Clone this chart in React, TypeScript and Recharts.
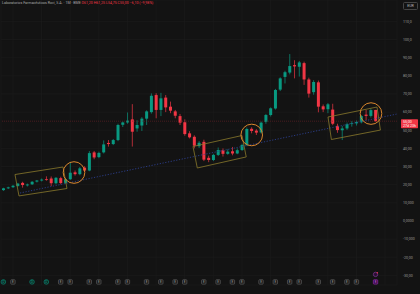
import {
  ComposedChart,
  Bar,
  XAxis,
  YAxis,
  CartesianGrid,
  ReferenceLine,
  ReferenceDot,
} from "recharts";

const BG = "#131313";
const GREEN = "#089981";
const RED = "#f23645";
const BOX = "#8a7a2c";
const RING = "#d9862c";
const TREND = "#2c3f8f";

// monthly candles, May 2019 .. Nov 2025
const MONTHS = [
  "2019-05", "2019-06", "2019-07", "2019-08", "2019-09", "2019-10", "2019-11", "2019-12",
  "2020-01", "2020-02", "2020-03", "2020-04", "2020-05", "2020-06", "2020-07", "2020-08", "2020-09", "2020-10", "2020-11", "2020-12",
  "2021-01", "2021-02", "2021-03", "2021-04", "2021-05", "2021-06", "2021-07", "2021-08", "2021-09", "2021-10", "2021-11", "2021-12",
  "2022-01", "2022-02", "2022-03", "2022-04", "2022-05", "2022-06", "2022-07", "2022-08", "2022-09", "2022-10", "2022-11", "2022-12",
  "2023-01", "2023-02", "2023-03", "2023-04", "2023-05", "2023-06", "2023-07", "2023-08", "2023-09", "2023-10", "2023-11", "2023-12",
  "2024-01", "2024-02", "2024-03", "2024-04", "2024-05", "2024-06", "2024-07", "2024-08", "2024-09", "2024-10", "2024-11", "2024-12",
  "2025-01", "2025-02", "2025-03", "2025-04", "2025-05", "2025-06", "2025-07", "2025-08", "2025-09", "2025-10", "2025-11",
];
// empty slots right of the last candle
const FUTURE = ["2025-12", "2026-01", "2026-02", "2026-03"];

const OPEN = [
  17.0, 18.0, 18.6, 19.3, 21.0, 19.6, 20.2, 21.7,
  22.3, 23.0, 23.4, 20.8, 23.6, 21.0, 23.0, 26.8, 25.8, 29.4, 27.8, 37.8,
  35.2, 37.8, 43.0, 42.4, 44.6, 53.0, 54.3, 56.0, 51.0, 52.6, 56.4, 60.0,
  69.4, 61.2, 68.0, 63.0, 60.4, 57.8, 54.4, 48.3, 46.4, 41.2, 43.6, 34.8,
  33.6, 36.4, 39.0, 37.0, 38.4, 37.2, 39.1, 41.9, 50.8, 49.8, 48.8, 54.6,
  58.4, 62.0, 72.4, 79.4, 81.8, 85.9, 85.0, 87.0, 78.0, 71.0, 76.4, 63.2,
  61.6, 61.4, 52.4, 50.0, 51.0, 53.4, 53.8, 54.4, 58.6, 57.9, 61.2,
];
const HIGH = [
  18.3, 18.9, 19.9, 21.0, 21.6, 20.6, 22.0, 22.6,
  23.4, 24.6, 24.5, 24.2, 24.4, 23.6, 32.5, 27.8, 29.8, 30.2, 38.5, 38.6,
  38.2, 44.4, 44.6, 45.2, 53.6, 54.8, 59.8, 64.4, 55.5, 57.2, 61.0, 70.3,
  70.4, 70.6, 69.4, 65.8, 61.2, 59.0, 56.0, 49.5, 47.2, 44.0, 44.8, 36.0,
  37.0, 40.5, 40.0, 39.5, 40.8, 40.0, 42.6, 51.5, 51.6, 50.6, 54.8, 59.0,
  62.6, 72.8, 79.2, 82.8, 92.0, 88.6, 88.2, 87.8, 79.0, 77.6, 77.4, 64.2,
  65.0, 64.6, 53.6, 52.4, 54.2, 55.0, 55.4, 58.4, 61.2, 62.0, 61.25,
];
const LOW = [
  16.6, 17.6, 18.2, 18.8, 18.4, 19.0, 19.8, 21.2,
  21.8, 22.2, 19.2, 20.2, 20.2, 20.5, 22.6, 25.0, 25.2, 27.0, 27.4, 34.0,
  34.6, 37.2, 41.0, 41.8, 44.0, 51.8, 53.6, 41.0, 49.2, 49.6, 52.9, 59.2,
  56.6, 57.8, 60.0, 59.4, 56.6, 52.9, 47.0, 45.5, 40.0, 40.2, 33.0, 32.4,
  33.0, 35.8, 35.5, 36.5, 36.2, 36.8, 38.6, 41.2, 48.3, 47.4, 48.2, 53.6,
  57.6, 61.4, 71.6, 75.8, 80.8, 78.6, 79.6, 75.0, 68.0, 69.6, 59.9, 60.0,
  59.4, 52.8, 48.6, 44.6, 50.2, 52.0, 52.6, 53.8, 55.6, 57.0, 54.75,
];
const CLOSE = [
  18.0, 18.5, 19.4, 20.6, 19.8, 20.1, 21.6, 22.3,
  22.8, 22.7, 20.8, 23.8, 20.9, 23.0, 26.6, 25.8, 29.0, 27.8, 37.4, 35.0,
  37.5, 42.2, 42.4, 44.6, 52.9, 54.3, 55.3, 49.2, 52.9, 56.4, 60.4, 69.0,
  61.2, 67.6, 62.6, 60.8, 58.0, 54.2, 47.9, 46.1, 41.5, 43.1, 33.8, 33.6,
  36.4, 39.1, 37.0, 38.2, 37.2, 39.0, 41.9, 50.7, 49.6, 48.7, 54.2, 58.4,
  62.1, 72.2, 78.6, 82.0, 85.4, 85.2, 87.4, 78.0, 70.2, 76.6, 63.0, 61.5,
  64.3, 53.6, 50.1, 51.0, 53.4, 53.9, 54.6, 57.8, 57.9, 61.1, 55.0,
];

const FIRST_MONTH = -2; // May 2019, counted from Jul 2019
const LAST_CLOSE = 55.0;

const X_TICKS = [0, 6, 12, 18, 24, 30, 36, 42, 48, 54, 60, 66, 72, 78];
const X_LABELS = ["Jul", "2020", "Jul", "2021", "Jul", "2022", "Jul", "2023", "Jul", "2024", "Jul", "2025", "Jul", "2026"];

const Y_TICKS = [110, 100, 90, 80, 70, 60, 50, 40, 30, 20, 10, 0, -10, -20, -30];
const Y_LABELS = ["110,0", "100,0", "90,00", "80,00", "70,00", "60,00", "50,00", "40,00", "30,00", "20,00", "10,000", "0,0000", "-10,000", "-20,00", "-30,00"];

// events strip along the bottom
const DIVIDEND_MONTHS = [-2, 4, 7];
const EARNINGS_MONTHS = [0, 10, 12, 16, 18, 22, 24, 28, 31, 34, 36, 40, 43, 46, 48, 52, 55, 58, 60, 64, 67, 70, 72];
const NEXT_EARNINGS = 76;
const EVENT_Y = -33.6;

// drawings (month index, price)
const TREND_LINE = [{ x: 1.48, y: 15.4 }, { x: 80.4, y: 58.9 }];
const BOXES = [
  [{ x: 0.43, y: 25.6 }, { x: 10.5, y: 29.75 }, { x: 11.33, y: 17.9 }, { x: 1.27, y: 13.8 }],
  [{ x: 37.74, y: 41.05 }, { x: 48.01, y: 47.1 }, { x: 48.9, y: 35.3 }, { x: 38.64, y: 29.2 }],
  [{ x: 66.04, y: 57.3 }, { x: 76.31, y: 62.8 }, { x: 77.02, y: 50.1 }, { x: 66.75, y: 44.9 }],
];
const RINGS = [
  { x: 12.8, y: 26.7 },
  { x: 50.05, y: 47.4 },
  { x: 75.05, y: 59.2 },
];

const data = [...MONTHS, ...FUTURE].map((label, i) => ({
  label,
  m: i + FIRST_MONTH,
  open: OPEN[i],
  high: HIGH[i],
  low: LOW[i],
  close: CLOSE[i],
}));

function Candle(props: any) {
  const { x, y, width, height, payload } = props;
  if (!payload || payload.high == null) return null;
  const { open, high, low, close } = payload;
  const color = close >= open ? GREEN : RED;
  const top = Math.min(y, y + height);
  const h = Math.abs(height);
  const py = (v: number) => top + ((high - v) / (high - low || 1)) * h;
  const cx = x + width / 2;
  const bTop = py(Math.max(open, close));
  const bBot = py(Math.min(open, close));
  return (
    <g>
      <line x1={cx} x2={cx} y1={top} y2={top + h} stroke={color} strokeWidth={0.7} />
      <rect x={x} y={bTop} width={width} height={Math.max(bBot - bTop, 0.8)} fill={color} />
    </g>
  );
}

function MonthTick(props: any) {
  const { x, y, payload } = props;
  return (
    <text x={x} y={y + 1} textAnchor="middle" fontSize={3.6} fontFamily="Roboto" fill="#8c8c8c">
      {X_LABELS[X_TICKS.indexOf(payload.value)] ?? ""}
    </text>
  );
}

function PriceTag(props: any) {
  const { viewBox } = props;
  if (!viewBox) return null;
  const x = viewBox.x + viewBox.width + 4;
  const y = viewBox.y;
  return (
    <g fontFamily="Roboto" fontSize={3.6} fill="#fff">
      <rect x={x} y={y - 2} width={17} height={9} fill={RED} rx={0.6} />
      <text x={x + 2} y={y + 2.1}>55,00</text>
      <text x={x + 2} y={y + 6}>27d 23h</text>
    </g>
  );
}

const earningsIcon = (color: string, fill: string, text: string) => (p: any) => (
  <g>
    <rect x={p.cx - 2.2} y={p.cy - 2.2} width={4.4} height={4.4} rx={0.8} fill={fill} stroke={color} strokeWidth={0.6} />
    <text x={p.cx} y={p.cy + 1.1} textAnchor="middle" fontSize={3} fontFamily="Roboto" fill={text}>E</text>
  </g>
);

const dividendIcon = (p: any) => (
  <g>
    <circle cx={p.cx} cy={p.cy} r={2.3} fill="#0f2621" stroke={GREEN} strokeWidth={0.6} />
    <text x={p.cx} y={p.cy + 1.1} textAnchor="middle" fontSize={3} fontFamily="Roboto" fill={GREEN}>D</text>
  </g>
);

const nextIcon = (p: any) => (
  <g>
    {earningsIcon("#a22cc0", "#3a1046", "#d36be8")(p)}
    <circle cx={p.cx} cy={p.cy - 7.5} r={2.2} fill="#2a1033" stroke="#8e3aa8" strokeWidth={0.6} />
    <circle cx={p.cx + 1.8} cy={p.cy - 9.2} r={0.7} fill={RED} />
  </g>
);

export default function App() {
  return (
    <div
      style={{
        position: "absolute",
        left: 0,
        top: 0,
        width: 420,
        height: 294,
        background: BG,
        overflow: "hidden",
      }}
    >
      <ComposedChart
        width={420}
        height={294}
        data={data}
        margin={{ top: 0, right: 0, bottom: 0, left: 1 }}
      >
        <CartesianGrid xAxisId="n" stroke="#1d1d1d" strokeWidth={0.6} />
        <XAxis xAxisId="c" dataKey="label" type="category" hide />
        <XAxis
          xAxisId="n"
          dataKey="m"
          type="number"
          domain={[-2.5, 80.5]}
          allowDataOverflow
          ticks={X_TICKS}
          interval={0}
          axisLine={false}
          tickLine={false}
          height={9}
          tickSize={3}
          tickMargin={0}
          tick={<MonthTick />}
        />
        <YAxis
          orientation="right"
          width={23}
          domain={[-35.3, 121.8]}
          allowDataOverflow
          ticks={Y_TICKS}
          interval={0}
          tickFormatter={(v: number) => Y_LABELS[Y_TICKS.indexOf(v)] ?? ""}
          axisLine={false}
          tickLine={false}
          tickSize={4}
          tickMargin={2}
          tick={{ fill: "#9a9a9a", fontSize: 3.6, fontFamily: "Roboto" }}
        />
        <ReferenceLine
          xAxisId="n"
          y={LAST_CLOSE}
          stroke="#6e2229"
          strokeWidth={0.6}
          strokeDasharray="1 1"
          label={<PriceTag />}
        />
        <ReferenceLine
          xAxisId="n"
          segment={TREND_LINE}
          stroke={TREND}
          strokeWidth={0.9}
          strokeDasharray="1.2 1.6"
          ifOverflow="visible"
        />
        <Bar
          xAxisId="c"
          dataKey={(d: any) => (d.high == null ? null : [d.low, d.high])}
          barSize={3}
          shape={<Candle />}
          isAnimationActive={false}
        />
        {BOXES.map((box, bi) =>
          box.map((p, i) => (
            <ReferenceLine
              key={`b${bi}-${i}`}
              xAxisId="n"
              segment={[p, box[(i + 1) % box.length]]}
              stroke={BOX}
              strokeWidth={0.8}
              ifOverflow="visible"
            />
          ))
        )}
        {RINGS.map((c, i) => (
          <ReferenceDot
            key={`r${i}`}
            xAxisId="n"
            x={c.x}
            y={c.y}
            r={10.8}
            fill="none"
            stroke={RING}
            strokeWidth={1}
            ifOverflow="visible"
          />
        ))}
        {DIVIDEND_MONTHS.map((m) => (
          <ReferenceDot key={`d${m}`} xAxisId="n" x={m} y={EVENT_Y} r={2} shape={dividendIcon} ifOverflow="visible" />
        ))}
        {EARNINGS_MONTHS.map((m) => (
          <ReferenceDot
            key={`e${m}`}
            xAxisId="n"
            x={m}
            y={EVENT_Y}
            r={2}
            shape={earningsIcon("#6a6a6a", "#181818", "#a0a0a0")}
            ifOverflow="visible"
          />
        ))}
        <ReferenceDot xAxisId="n" x={NEXT_EARNINGS} y={EVENT_Y} r={2} shape={nextIcon} ifOverflow="visible" />
      </ComposedChart>
      <div
        style={{
          position: "absolute",
          left: 2,
          top: 1,
          fontFamily: "Roboto",
          fontSize: 3.6,
          lineHeight: "5px",
          color: "#a8a8a8",
          whiteSpace: "nowrap",
        }}
      >
        Laboratorios Farmacéuticos Rovi, S.A. · 1M · BME{" "}
        <span style={{ color: RED }}>O61,20 H61,25 L54,75 C55,00 −6,10 (−9,98%)</span>
      </div>
      <div
        style={{
          position: "absolute",
          left: 403,
          top: 2,
          width: 15,
          height: 8,
          boxSizing: "border-box",
          border: "0.6px solid #444",
          borderRadius: 1.5,
          fontFamily: "Roboto",
          fontSize: 3.6,
          lineHeight: "7px",
          color: "#bbb",
          textAlign: "center",
        }}
      >
        EUR
      </div>
    </div>
  );
}
